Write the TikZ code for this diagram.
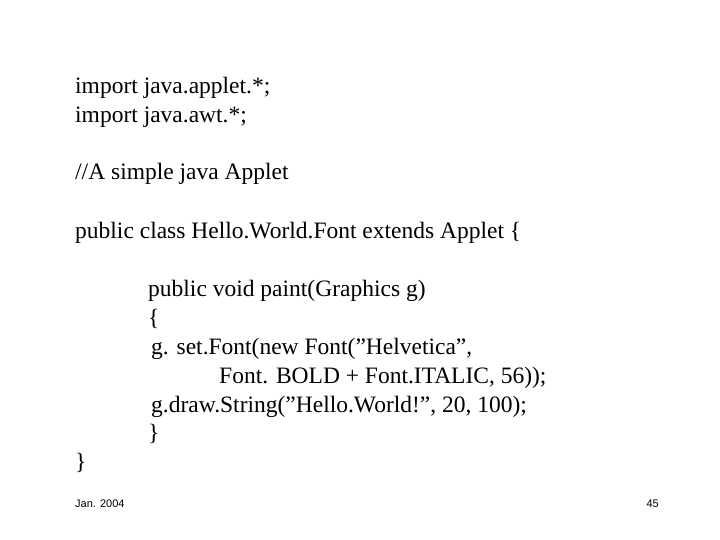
\documentclass[tikz,border=0pt]{standalone}
\usepackage{fontspec}
\setmainfont{Liberation Serif}
\newfontfamily\footfont{Liberation Sans}
\newcommand{\dq}{\symbol{34}}
\begin{document}
\begin{tikzpicture}[x=1pt,y=-1pt,every node/.style={anchor=base west,inner sep=0pt},
 code/.style={font=\fontsize{23.5}{28}\selectfont},
 foot/.style={font=\footfont\fontsize{11}{13}\selectfont}]
\useasboundingbox (0,0) rectangle (720,540);
\node[code] (l1) at (75,94) {import java.applet.*;};
\node[code] (l2) at (75,123) {import java.awt.*;};
\node[code] (l3) at (75,180) {//A simple java Applet};
\node[code] (l4) at (75,238) {public class Hello.World.Font extends Applet \{};
\node[code] (l5) at (148,296) {public void paint(Graphics g)};
\node[code] (l6) at (148,325) {\{};
\node[code] (l7) at (151,354) {g. set.Font(new Font(\dq Helvetica\dq,};
\node[code] (l8) at (219,383) {Font. BOLD + Font.ITALIC, 56));};
\node[code] (l9) at (151,412) {g.draw.String(\dq Hello.World!\dq, 20, 100);};
\node[code] (l10) at (148,440) {\}};
\node[code] (l11) at (75,469) {\}};
\node[foot] (f1) at (75,507) {Jan. 2004};
\node[foot,anchor=base east] (f2) at (659,507) {45};
\end{tikzpicture}
\end{document}
